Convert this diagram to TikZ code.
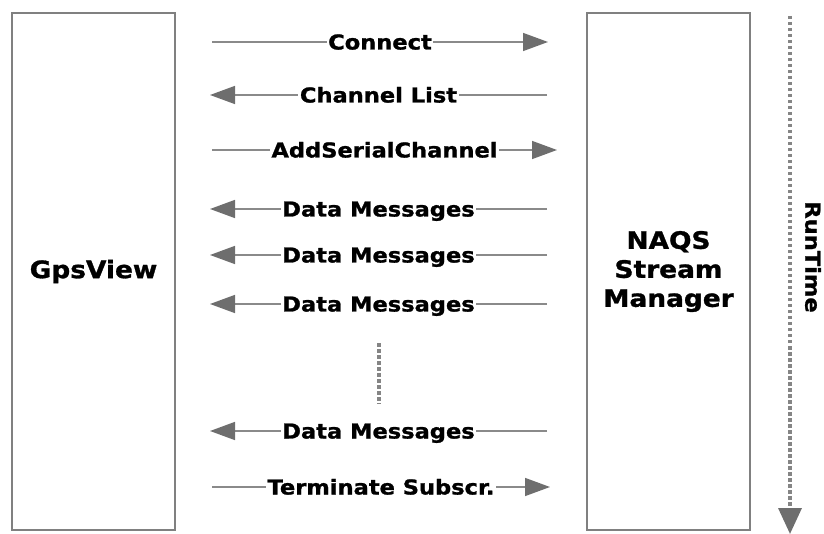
\documentclass[tikz,border=0pt]{standalone}
\usepackage{fontspec}
\setmainfont[FakeStretch=1.1, BoldFeatures={FakeBold=1.2}]{DejaVu Sans}
\usetikzlibrary{arrows.meta}
\definecolor{boxline}{HTML}{808080}
\definecolor{msgline}{HTML}{8A8A8A}
\definecolor{tipfill}{HTML}{6E6E6E}
\definecolor{dotline}{HTML}{858585}
\tikzset{
  lane/.style={draw=boxline, line width=1.5pt, minimum width=163pt,
    minimum height=517pt, inner sep=0pt, align=center,
    font=\fontsize{24}{29}\selectfont\bfseries},
  msg/.style={draw=msgline, line width=1.5pt,
    -{Triangle[length=25pt,width=18pt,color=tipfill]}},
  lbl/.style={fill=white, inner xsep=1.5pt, inner ysep=0pt,
    text height=15pt, text depth=0pt,
    font=\fontsize{20.5}{24}\selectfont\bfseries},
  dots/.style={draw=dotline, line width=3.5pt, dash pattern=on 3.5pt off 2.5pt}
}
\begin{document}
\begin{tikzpicture}[x=1pt,y=-1pt]
  \useasboundingbox (0,0) rectangle (824,534);

  % participants
  \node[lane] (gps) at (93.5,271.5) {GpsView};
  \node[lane] (naqs) at (668.5,271.5) {NAQS\\Stream\\Manager};

  % message end points
  \coordinate (m1a) at (212,42);  \coordinate (m1b) at (548,42);
  \coordinate (m2a) at (547,95);  \coordinate (m2b) at (210,95);
  \coordinate (m3a) at (212,150); \coordinate (m3b) at (557,150);
  \coordinate (m4a) at (547,209); \coordinate (m4b) at (210,209);
  \coordinate (m5a) at (547,255); \coordinate (m5b) at (210,255);
  \coordinate (m6a) at (547,304); \coordinate (m6b) at (210,304);
  \coordinate (m7a) at (547,431); \coordinate (m7b) at (210,431);
  \coordinate (m8a) at (212,487); \coordinate (m8b) at (550,487);

  % messages
  \draw[msg] (m1a) -- node[lbl] {Connect} (m1b);
  \draw[msg] (m2a) -- node[lbl] {Channel List} (m2b);
  \draw[msg] (m3a) -- node[lbl] {AddSerialChannel} (m3b);
  \draw[msg] (m4a) -- node[lbl] {Data Messages} (m4b);
  \draw[msg] (m5a) -- node[lbl] {Data Messages} (m5b);
  \draw[msg] (m6a) -- node[lbl] {Data Messages} (m6b);
  \draw[msg] (m7a) -- node[lbl] {Data Messages} (m7b);
  \draw[msg] (m8a) -- node[lbl] {Terminate Subscr.} (m8b);

  % ellipsis between the data messages
  \coordinate (gap1) at (379,343); \coordinate (gap2) at (379,404);
  \draw[dots] (gap1) -- (gap2);

  % time axis
  \coordinate (t0) at (790,16); \coordinate (t1) at (790,534);
  \draw[dots, -{Triangle[length=26pt,width=23pt,color=tipfill]}] (t0) -- (t1);
  \node[font=\fontsize{20.5}{24}\selectfont\bfseries, rotate=-90,
        inner sep=0pt] (rt) at (813,257) {RunTime};
\end{tikzpicture}
\end{document}
